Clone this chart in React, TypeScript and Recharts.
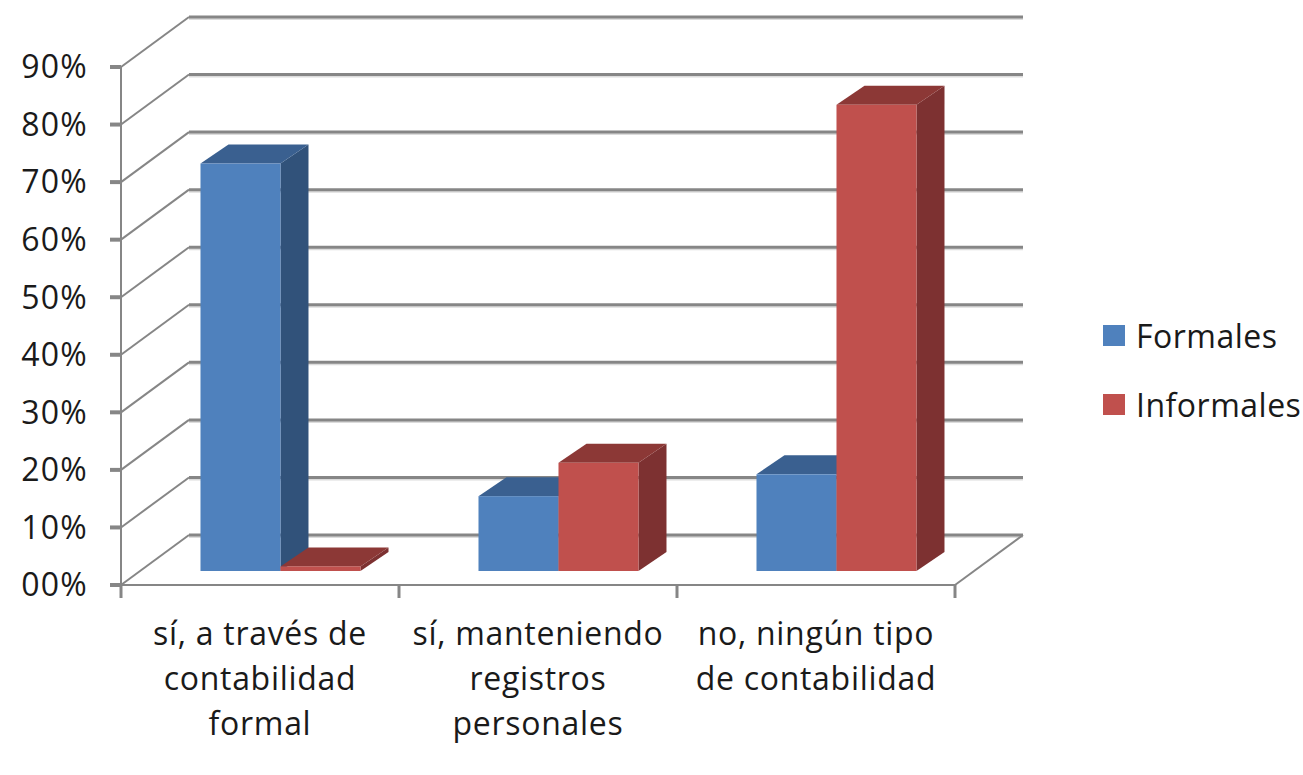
import React from "react";
import { BarChart, Bar, XAxis, YAxis, CartesianGrid, Legend } from "recharts";

const categories = [
  "sí, a través de\ncontabilidad\nformal",
  "sí, manteniendo\nregistros\npersonales",
  "no, ningún tipo\nde contabilidad",
];
const formales = [70.8, 13, 16.8];
const informales = [0.8, 18.8, 81];
const yTicks = [0, 10, 20, 30, 40, 50, 60, 70, 80, 90];

const data = categories.map((name, i) => ({ name, Formales: formales[i], Informales: informales[i] }));

const FONT = "'Open Sans', sans-serif";
const GRID = "#868686";
const BLUE = { front: "#4F81BD", top: "#3A6090", side: "#31527A" };
const RED = { front: "#C0504D", top: "#8C3836", side: "#7D3131" };

// perspective of the chart's walls and bars
const WALL_DX = 68;
const WALL_DY = -50;
const BAR_SHIFT_X = 20;
const BAR_SHIFT_Y = -14;
const BAR_DX = 28;
const BAR_DY = -19;

const grid3D = (p: any) => {
  const { x1, x2, y1, key } = p;
  const isFloor = Math.abs(y1 - 585) < 1;
  return (
    <g key={key ?? y1}>
      <polyline points={`${x1},${y1} ${x1 + WALL_DX},${y1 + WALL_DY}`} stroke={GRID} strokeWidth={2} fill="none" />
      <line x1={x1 + WALL_DX} y1={y1 + WALL_DY + 2} x2={x2 + WALL_DX} y2={y1 + WALL_DY + 2} stroke="#dcdcdc" strokeWidth={2} />
      <line x1={x1 + WALL_DX} y1={y1 + WALL_DY} x2={x2 + WALL_DX} y2={y1 + WALL_DY} stroke={GRID} strokeWidth={3} />
      {isFloor && <line x1={x2} y1={y1} x2={x2 + WALL_DX} y2={y1 + WALL_DY} stroke={GRID} strokeWidth={2} />}
    </g>
  );
};

const bar3D = (c: typeof BLUE) => (p: any) => {
  const x = p.x + BAR_SHIFT_X;
  const y = p.y + BAR_SHIFT_Y;
  const w = p.width;
  const h = p.height;
  return (
    <g>
      <polygon points={`${x + w},${y} ${x + w + BAR_DX},${y + BAR_DY} ${x + w + BAR_DX},${y + h + BAR_DY} ${x + w},${y + h}`} fill={c.side} />
      <polygon points={`${x},${y} ${x + BAR_DX},${y + BAR_DY} ${x + w + BAR_DX},${y + BAR_DY} ${x + w},${y}`} fill={c.top} />
      <rect x={x} y={y} width={w} height={h} fill={c.front} />
    </g>
  );
};

const CategoryTick = (p: any) => {
  const { x, index, payload } = p;
  const half = payload.offset ?? 139;
  const lines: string[] = String(payload.value).split("\n");
  return (
    <g>
      <line x1={x - half} y1={585} x2={x - half} y2={598} stroke={GRID} strokeWidth={3} />
      {index === categories.length - 1 && <line x1={x + half} y1={585} x2={x + half} y2={598} stroke={GRID} strokeWidth={3} />}
      <text textAnchor="middle" fontFamily={FONT} fontSize={32} letterSpacing={0.7} fill="#1a1a1a">
        {lines.map((l, i) => (
          <tspan key={i} x={x} y={645 + i * 45}>{l}</tspan>
        ))}
      </text>
    </g>
  );
};

const LegendBox = (p: any) => (
  <div style={{ fontFamily: FONT, fontSize: 32, letterSpacing: 0.5, color: "#1a1a1a", whiteSpace: "nowrap" }}>
    {(p.payload ?? []).map((e: any) => (
      <div key={e.value} style={{ display: "flex", alignItems: "center", height: 69 }}>
        <span style={{ display: "block", width: 22, height: 21, background: e.color, marginRight: 11 }} />
        <span>{e.value}</span>
      </div>
    ))}
  </div>
);

export default function App() {
  return (
    <div style={{ position: "absolute", left: 0, top: 0, width: 1303, height: 775, background: "#fff" }}>
      <BarChart
        width={1303}
        height={775}
        data={data}
        barGap={0}
        barCategoryGap="21.4%"
        margin={{ top: 67, right: 348, bottom: 0, left: 0 }}
      >
        <CartesianGrid horizontal={grid3D} vertical={false} />
        <XAxis
          dataKey="name"
          height={190}
          interval={0}
          axisLine={{ stroke: GRID, strokeWidth: 2 }}
          tickLine={false}
          tick={CategoryTick}
        />
        <YAxis
          width={121}
          domain={[0, 90]}
          ticks={yTicks}
          interval={0}
          tickFormatter={(v: number) => `${String(v).padStart(2, "0")}%`}
          axisLine={{ stroke: GRID, strokeWidth: 2 }}
          tickLine={{ stroke: GRID, strokeWidth: 4 }}
          tickSize={11}
          tickMargin={22}
          tick={{ fontFamily: FONT, fontSize: 32, letterSpacing: 1.2, fill: "#1a1a1a" }}
        />
        <Legend
          layout="horizontal"
          verticalAlign="middle"
          align="center"
          content={LegendBox}
          wrapperStyle={{ left: 1103, top: 301, width: 200, right: "auto", bottom: "auto" }}
        />
        <Bar dataKey="Formales" fill={BLUE.front} shape={bar3D(BLUE)} isAnimationActive={false} />
        <Bar dataKey="Informales" fill={RED.front} shape={bar3D(RED)} isAnimationActive={false} />
      </BarChart>
    </div>
  );
}
